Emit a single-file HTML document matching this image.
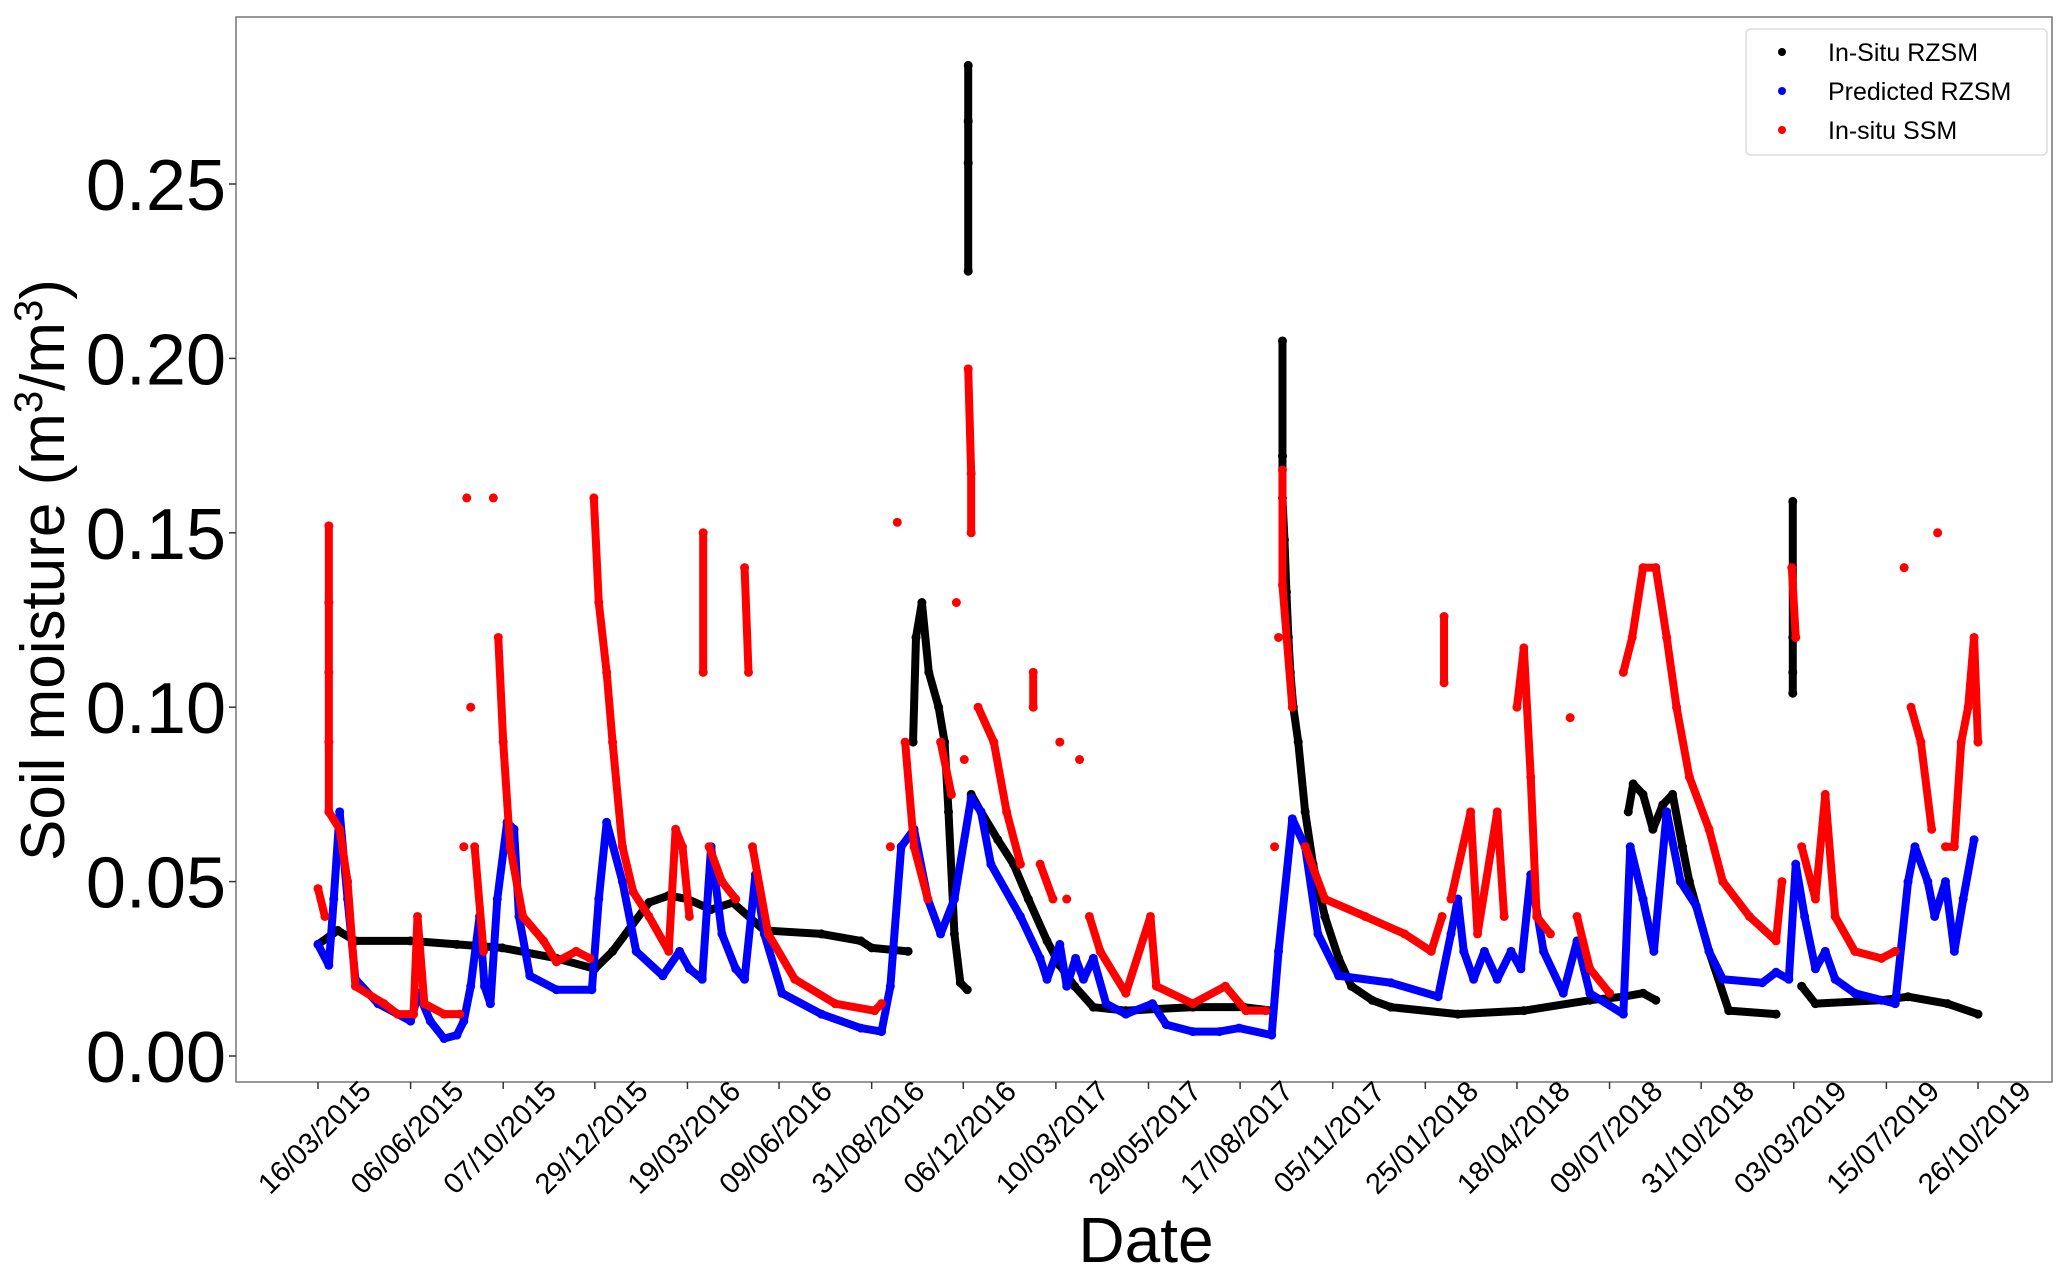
<!DOCTYPE html>
<html><head><meta charset="utf-8"><style>
html,body{margin:0;padding:0;background:#fff;}
svg{display:block;font-family:"Liberation Sans","DejaVu Sans",sans-serif;}
</style></head><body>
<svg id="chart" width="2067" height="1278" viewBox="0 0 2067 1278" xmlns="http://www.w3.org/2000/svg">
<rect x="236" y="17" width="1816" height="1065" fill="#fff" stroke="#7f7f7f" stroke-width="1.6"/>
<g id="yaxis"></g>
<g id="xaxis"></g>
<g id="series"></g>
<text transform="translate(64,570) rotate(-90)" text-anchor="middle" font-size="62">Soil moisture (m<tspan baseline-shift="super" font-size="40">3</tspan>/m<tspan baseline-shift="super" font-size="40">3</tspan>)</text>
<text x="1146" y="1262" text-anchor="middle" font-size="64">Date</text>
<g>
<rect x="1746" y="29" width="301" height="126" rx="5" fill="#fff" stroke="#ddd" stroke-width="1.5"/>
<g><circle cx="1782" cy="52" r="4" fill="#000"/><text x="1828" y="61" font-size="25">In-Situ RZSM</text></g>
<g><circle cx="1782" cy="91" r="4" fill="#0000ff"/><text x="1828" y="100" font-size="25">Predicted RZSM</text></g>
<g><circle cx="1782" cy="130" r="4" fill="#ff0000"/><text x="1828" y="139" font-size="25">In-situ SSM</text></g>
</g>
</svg>
<script>
const yTicks = [0, 0.05, 0.10, 0.15, 0.20, 0.25];
const yTickLabels = ["0.00","0.05","0.10","0.15","0.20","0.25"];
const xTickDays = [0,94,188,281,375,468,562,655,749,843,936,1030,1124,1217,1311,1404,1498,1592,1685];
const xTickLabels = ["16/03/2015","06/06/2015","07/10/2015","29/12/2015","19/03/2016","09/06/2016","31/08/2016","06/12/2016","10/03/2017","29/05/2017","17/08/2017","05/11/2017","25/01/2018","18/04/2018","09/07/2018","31/10/2018","03/03/2019","15/07/2019","26/10/2019"];

const blackDays = [0,20,38,94,141,187,242,281,299,336,356,375,399,421,453,511,551,562,599,604,607,613,620,630,636,640,646,652,659,660,660,660,660,663,673,690,706,721,740,753,768,787,820,888,940,968,979,979,979,981,983,985,987,990,995,1002,1010,1022,1036,1049,1070,1089,1157,1224,1291,1325,1345,1358,1330,1335,1345,1355,1365,1375,1385,1392,1412,1432,1480,1497,1497,1497,1497,1506,1520,1587,1614,1654,1685];
const blackVals = [0.032,0.036,0.033,0.033,0.032,0.031,0.028,0.025,0.030,0.044,0.046,0.045,0.042,0.044,0.036,0.035,0.033,0.031,0.030,0.09,0.12,0.13,0.11,0.10,0.09,0.07,0.035,0.021,0.019,0.225,0.256,0.268,0.284,0.075,0.07,0.062,0.055,0.045,0.033,0.026,0.02,0.014,0.013,0.014,0.014,0.013,0.205,0.172,0.160,0.148,0.133,0.12,0.11,0.10,0.09,0.07,0.055,0.04,0.028,0.02,0.016,0.014,0.012,0.013,0.016,0.017,0.018,0.016,0.07,0.078,0.075,0.065,0.072,0.075,0.06,0.05,0.03,0.013,0.012,0.159,0.12,0.11,0.104,0.02,0.015,0.016,0.017,0.015,0.012];

const blueDays = [0,11,16,22,30,38,61,81,94,102,114,128,141,148,155,164,169,175,182,192,199,204,215,242,278,285,293,309,323,350,367,377,390,399,410,424,433,444,453,471,511,551,572,581,592,605,619,632,646,663,673,683,713,733,740,753,760,769,777,787,800,820,847,861,888,915,935,968,975,989,1002,1015,1036,1089,1137,1150,1157,1163,1173,1184,1197,1211,1221,1231,1244,1264,1278,1291,1325,1332,1345,1356,1369,1383,1399,1412,1426,1466,1480,1493,1500,1509,1520,1530,1540,1560,1601,1614,1621,1634,1641,1652,1661,1670,1681];
const blueVals = [0.032,0.026,0.045,0.07,0.045,0.022,0.015,0.012,0.01,0.018,0.01,0.005,0.006,0.01,0.02,0.04,0.02,0.015,0.045,0.067,0.065,0.04,0.023,0.019,0.019,0.045,0.067,0.05,0.03,0.023,0.03,0.025,0.022,0.06,0.035,0.025,0.022,0.052,0.035,0.018,0.012,0.008,0.007,0.02,0.06,0.065,0.045,0.035,0.045,0.074,0.07,0.055,0.04,0.028,0.022,0.032,0.02,0.028,0.022,0.028,0.015,0.012,0.015,0.009,0.007,0.007,0.008,0.006,0.03,0.068,0.06,0.035,0.023,0.021,0.017,0.035,0.045,0.03,0.022,0.03,0.022,0.03,0.025,0.052,0.03,0.018,0.033,0.018,0.012,0.06,0.045,0.03,0.07,0.05,0.043,0.03,0.022,0.021,0.024,0.022,0.055,0.04,0.025,0.03,0.022,0.018,0.015,0.05,0.06,0.05,0.04,0.05,0.03,0.045,0.062];

const redDays = [0,7,11,11,11,11,11,22,30,38,67,81,97,101,108,128,144,148,151,155,159,168,178,183,188,195,208,229,242,262,276,280,285,293,299,309,320,336,356,363,370,377,391,391,397,410,424,433,437,441,457,484,525,565,572,581,588,596,605,619,632,643,648,656,660,663,663,670,686,699,713,726,726,733,746,753,760,773,783,794,820,845,851,888,921,942,962,971,975,979,979,989,1002,1022,1063,1103,1130,1141,1143,1143,1150,1170,1177,1197,1204,1217,1224,1231,1237,1251,1271,1278,1291,1311,1325,1334,1345,1358,1369,1379,1392,1412,1426,1453,1480,1486,1496,1500,1506,1520,1530,1540,1560,1587,1601,1610,1617,1627,1638,1644,1652,1661,1668,1675,1681,1685];
const redVals = [0.048,0.04,0.152,0.13,0.11,0.09,0.07,0.065,0.05,0.02,0.015,0.012,0.012,0.04,0.015,0.012,0.012,0.06,0.16,0.10,0.06,0.03,0.16,0.12,0.09,0.06,0.04,0.033,0.027,0.03,0.028,0.16,0.13,0.11,0.09,0.06,0.047,0.04,0.03,0.065,0.06,0.04,0.15,0.11,0.06,0.05,0.045,0.14,0.11,0.06,0.035,0.022,0.015,0.013,0.015,0.06,0.153,0.09,0.06,0.045,0.09,0.075,0.13,0.085,0.197,0.167,0.15,0.1,0.09,0.07,0.055,0.11,0.1,0.055,0.045,0.09,0.045,0.085,0.04,0.03,0.018,0.04,0.02,0.015,0.02,0.013,0.013,0.06,0.12,0.168,0.135,0.1,0.06,0.045,0.04,0.035,0.03,0.04,0.126,0.107,0.045,0.07,0.035,0.07,0.04,0.1,0.117,0.08,0.04,0.035,0.097,0.04,0.025,0.018,0.11,0.12,0.14,0.14,0.12,0.1,0.08,0.065,0.05,0.04,0.033,0.05,0.14,0.12,0.06,0.045,0.075,0.04,0.03,0.028,0.03,0.14,0.1,0.09,0.065,0.15,0.06,0.06,0.09,0.1,0.12,0.09];

const NS = "http://www.w3.org/2000/svg";
const X0 = 318, X1 = 1978, D0 = 0, D1 = 1685;
const Y0 = 1056, PER = 174.4 / 0.05;
function xScale(d){ return X0 + (d - D0) / (D1 - D0) * (X1 - X0); }
function yScale(v){ return Y0 - v * PER; }
function mk(tag, attrs, parent){ const e = document.createElementNS(NS, tag); for (const k in attrs) e.setAttribute(k, attrs[k]); parent.appendChild(e); return e; }

const yg = document.getElementById('yaxis');
yTicks.forEach((v, i) => {
  const y = yScale(v);
  const t = mk('line', {x1: 229, x2: 236, y1: y, y2: y, stroke: '#333', 'stroke-width': 1.5}, yg);
  
  
  const l = mk('text', {x: 226, y: y + 26, 'text-anchor': 'end', 'font-size': 72}, yg);
  
  
  l.textContent = yTickLabels[i];
});
const xg = document.getElementById('xaxis');
xTickDays.forEach((d, i) => {
  const x = xScale(d);
  const t = mk('line', {x1: x, x2: x, y1: 1082, y2: 1089, stroke: '#333', 'stroke-width': 1.5}, xg);
  
  
  const l = mk('text', {x: 0, y: 9, 'text-anchor': 'middle', 'font-size': 29, transform: 'translate(' + (x - 3) + ',1138) rotate(-45)'}, xg);
  
  
  l.textContent = xTickLabels[i];
});

const sg = document.getElementById('series');
function drawSeries(days, vals, color, name, dvMax){
  const g = mk('g', {}, sg);
  
  
  for (let i = 1; i < days.length; i++) {
    if (Math.abs(days[i] - days[i-1]) <= 80 && Math.abs(vals[i] - vals[i-1]) <= dvMax) {
      const s = mk('line', {x1: xScale(days[i-1]), y1: yScale(vals[i-1]), x2: xScale(days[i]), y2: yScale(vals[i]), stroke: color, 'stroke-width': 8, 'stroke-linecap': 'round'}, g);
      
      
    }
  }
  for (let i = 0; i < days.length; i++) {
    const c = mk('circle', {cx: xScale(days[i]), cy: yScale(vals[i]), r: 4.5, fill: color}, g);
    
    
  }
}
drawSeries(blackDays, blackVals, '#000000', 'insitu-rzsm-series', 0.04);
drawSeries(blueDays, blueVals, '#0000ff', 'predicted-rzsm-series', 0.05);
drawSeries(redDays, redVals, '#ff0000', 'insitu-ssm-series', 0.04);
</script>
</body></html>
